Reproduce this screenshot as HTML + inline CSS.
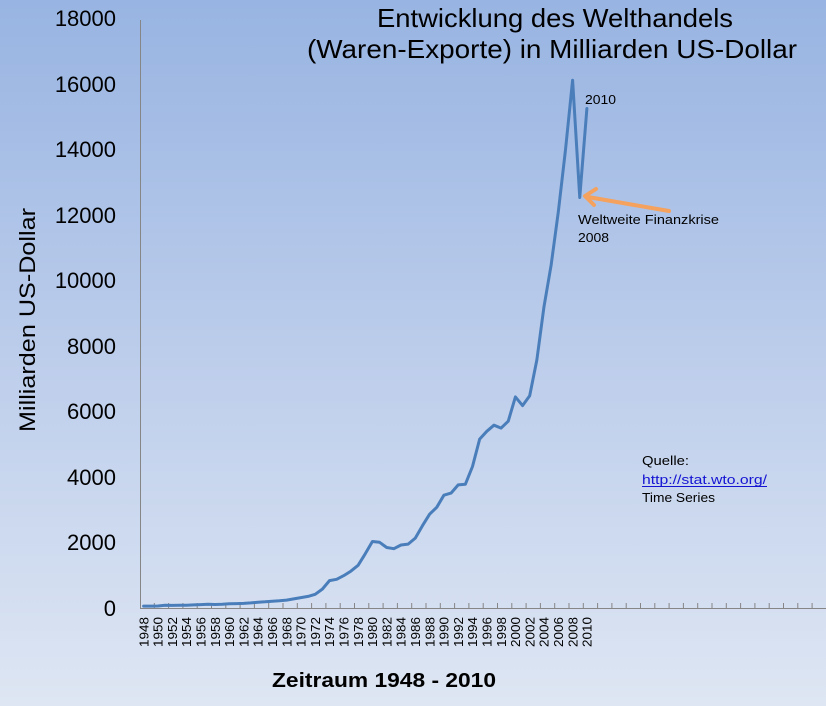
<!DOCTYPE html>
<html><head><meta charset="utf-8"><style>
html,body{margin:0;padding:0;width:826px;height:706px;overflow:hidden}
svg{display:block}
text{font-family:"Liberation Sans",sans-serif;fill:#000}
</style></head><body>
<svg width="826" height="706" viewBox="0 0 826 706" xmlns="http://www.w3.org/2000/svg">
<defs>
<linearGradient id="bg" x1="0" y1="0" x2="0" y2="1">
<stop offset="0" stop-color="#98b4e2"/>
<stop offset="0.5" stop-color="#bccdeb"/>
<stop offset="1" stop-color="#dee6f3"/>
</linearGradient>
</defs>
<rect width="826" height="706" fill="url(#bg)"/>

<!-- title -->
<text x="377" y="27" font-size="26" textLength="356" lengthAdjust="spacingAndGlyphs">Entwicklung des Welthandels</text>
<text x="307" y="58" font-size="26" textLength="490" lengthAdjust="spacingAndGlyphs">(Waren-Exporte) in Milliarden US-Dollar</text>

<!-- axes -->
<line x1="140.5" y1="20" x2="140.5" y2="608" stroke="#868686" stroke-width="1"/>
<line x1="140" y1="608.5" x2="826" y2="608.5" stroke="#868686" stroke-width="1"/>
<g stroke="#868686" stroke-width="1">
<path d="M154.3 603V608M168.6 603V608M182.9 603V608M197.2 603V608M211.5 603V608M225.8 603V608M240.1 603V608M254.4 603V608M268.7 603V608M283 603V608M297.3 603V608M311.6 603V608M325.9 603V608M340.2 603V608M354.5 603V608M368.8 603V608M383.1 603V608M397.4 603V608M411.7 603V608M426 603V608M440.3 603V608M454.6 603V608M468.9 603V608M483.2 603V608M497.5 603V608M511.8 603V608M526.1 603V608M540.4 603V608M554.7 603V608M569 603V608M583.3 603V608M597.6 603V608M611.9 603V608M626.2 603V608M640.5 603V608M654.8 603V608M669.1 603V608M683.4 603V608M697.7 603V608M712 603V608M726.3 603V608M740.6 603V608M754.9 603V608M769.2 603V608M783.5 603V608M797.8 603V608M812.1 603V608"/>
</g>

<!-- y tick labels -->
<g font-size="22" text-anchor="end">
<text x="116" y="26">18000</text>
<text x="116" y="92">16000</text>
<text x="116" y="157">14000</text>
<text x="116" y="223">12000</text>
<text x="116" y="288">10000</text>
<text x="116" y="354">8000</text>
<text x="116" y="419">6000</text>
<text x="116" y="485">4000</text>
<text x="116" y="550">2000</text>
<text x="116" y="616">0</text>
</g>

<!-- y axis title -->
<text transform="translate(35,320) rotate(-90)" font-size="22" text-anchor="middle" textLength="224" lengthAdjust="spacingAndGlyphs">Milliarden US-Dollar</text>

<!-- x tick labels -->
<g font-size="13" text-anchor="end">
<text transform="translate(148.3,617) rotate(-90)" textLength="30" lengthAdjust="spacingAndGlyphs">1948</text>
<text transform="translate(162.6,617) rotate(-90)" textLength="30" lengthAdjust="spacingAndGlyphs">1950</text>
<text transform="translate(176.9,617) rotate(-90)" textLength="30" lengthAdjust="spacingAndGlyphs">1952</text>
<text transform="translate(191.2,617) rotate(-90)" textLength="30" lengthAdjust="spacingAndGlyphs">1954</text>
<text transform="translate(205.5,617) rotate(-90)" textLength="30" lengthAdjust="spacingAndGlyphs">1956</text>
<text transform="translate(219.8,617) rotate(-90)" textLength="30" lengthAdjust="spacingAndGlyphs">1958</text>
<text transform="translate(234.1,617) rotate(-90)" textLength="30" lengthAdjust="spacingAndGlyphs">1960</text>
<text transform="translate(248.4,617) rotate(-90)" textLength="30" lengthAdjust="spacingAndGlyphs">1962</text>
<text transform="translate(262.7,617) rotate(-90)" textLength="30" lengthAdjust="spacingAndGlyphs">1964</text>
<text transform="translate(277,617) rotate(-90)" textLength="30" lengthAdjust="spacingAndGlyphs">1966</text>
<text transform="translate(291.3,617) rotate(-90)" textLength="30" lengthAdjust="spacingAndGlyphs">1968</text>
<text transform="translate(305.6,617) rotate(-90)" textLength="30" lengthAdjust="spacingAndGlyphs">1970</text>
<text transform="translate(319.9,617) rotate(-90)" textLength="30" lengthAdjust="spacingAndGlyphs">1972</text>
<text transform="translate(334.2,617) rotate(-90)" textLength="30" lengthAdjust="spacingAndGlyphs">1974</text>
<text transform="translate(348.5,617) rotate(-90)" textLength="30" lengthAdjust="spacingAndGlyphs">1976</text>
<text transform="translate(362.8,617) rotate(-90)" textLength="30" lengthAdjust="spacingAndGlyphs">1978</text>
<text transform="translate(377.1,617) rotate(-90)" textLength="30" lengthAdjust="spacingAndGlyphs">1980</text>
<text transform="translate(391.4,617) rotate(-90)" textLength="30" lengthAdjust="spacingAndGlyphs">1982</text>
<text transform="translate(405.7,617) rotate(-90)" textLength="30" lengthAdjust="spacingAndGlyphs">1984</text>
<text transform="translate(420,617) rotate(-90)" textLength="30" lengthAdjust="spacingAndGlyphs">1986</text>
<text transform="translate(434.3,617) rotate(-90)" textLength="30" lengthAdjust="spacingAndGlyphs">1988</text>
<text transform="translate(448.6,617) rotate(-90)" textLength="30" lengthAdjust="spacingAndGlyphs">1990</text>
<text transform="translate(462.9,617) rotate(-90)" textLength="30" lengthAdjust="spacingAndGlyphs">1992</text>
<text transform="translate(477.2,617) rotate(-90)" textLength="30" lengthAdjust="spacingAndGlyphs">1994</text>
<text transform="translate(491.5,617) rotate(-90)" textLength="30" lengthAdjust="spacingAndGlyphs">1996</text>
<text transform="translate(505.8,617) rotate(-90)" textLength="30" lengthAdjust="spacingAndGlyphs">1998</text>
<text transform="translate(520.1,617) rotate(-90)" textLength="30" lengthAdjust="spacingAndGlyphs">2000</text>
<text transform="translate(534.4,617) rotate(-90)" textLength="30" lengthAdjust="spacingAndGlyphs">2002</text>
<text transform="translate(548.7,617) rotate(-90)" textLength="30" lengthAdjust="spacingAndGlyphs">2004</text>
<text transform="translate(563,617) rotate(-90)" textLength="30" lengthAdjust="spacingAndGlyphs">2006</text>
<text transform="translate(577.3,617) rotate(-90)" textLength="30" lengthAdjust="spacingAndGlyphs">2008</text>
<text transform="translate(591.6,617) rotate(-90)" textLength="30" lengthAdjust="spacingAndGlyphs">2010</text>
</g>

<!-- x axis title -->
<text x="272" y="687" font-size="20" font-weight="bold" textLength="224" lengthAdjust="spacingAndGlyphs">Zeitraum 1948 - 2010</text>

<!-- series -->
<polyline fill="none" stroke="#4a7ebb" stroke-width="3" stroke-linejoin="round" stroke-linecap="round" points="143.6,606.1 150.75,606.1 157.9,606 165.05,605.3 172.2,605.4 179.35,605.3 186.5,605.2 193.65,604.9 200.8,604.6 207.95,604.3 215.1,604.5 222.25,604.2 229.4,603.7 236.55,603.6 243.7,603.4 250.85,602.9 258,602.2 265.15,601.8 272.3,601.2 279.45,600.8 286.6,600.1 293.75,598.9 300.9,597.6 308.05,596.4 315.2,594.3 322.35,589.1 329.5,580.6 336.65,579.3 343.8,575.6 350.95,571.1 358.1,565.3 365.25,553.8 372.4,541.5 379.55,542.3 386.7,547.5 393.85,548.7 401,545 408.15,544.1 415.3,538.1 422.45,525.7 429.6,514.2 436.75,507.3 443.9,495.2 451.05,493.1 458.2,484.9 465.35,484.3 472.5,466.5 479.65,439.1 486.8,431.3 493.95,425.2 501.1,428.1 508.25,421.2 515.4,396.9 522.55,405.6 529.7,395.7 536.85,359.9 544,306.6 551.15,265 558.3,211.9 565.45,150.2 572.6,80.2 579.75,197.5 586.9,108.5"/>

<!-- annotations -->
<text x="585" y="104" font-size="13" textLength="31" lengthAdjust="spacingAndGlyphs">2010</text>
<g stroke="#f5a25e" stroke-width="4" stroke-linecap="round" fill="none">
<line x1="669" y1="211" x2="588" y2="197"/>
<polyline points="596,189 585,196 594,205" stroke-linejoin="round"/>
</g>
<text x="578" y="224" font-size="13" textLength="141" lengthAdjust="spacingAndGlyphs">Weltweite Finanzkrise</text>
<text x="578" y="242" font-size="13" textLength="31" lengthAdjust="spacingAndGlyphs">2008</text>

<text x="642" y="465" font-size="13" textLength="47" lengthAdjust="spacingAndGlyphs">Quelle:</text>
<text x="642" y="484" font-size="13" style="fill:#1414d2" textLength="125" lengthAdjust="spacingAndGlyphs">http://stat.wto.org/</text>
<line x1="642" y1="486.5" x2="767" y2="486.5" stroke="#1414d2" stroke-width="1"/>
<text x="642" y="502" font-size="13" textLength="73" lengthAdjust="spacingAndGlyphs">Time Series</text>
</svg>
</body></html>
